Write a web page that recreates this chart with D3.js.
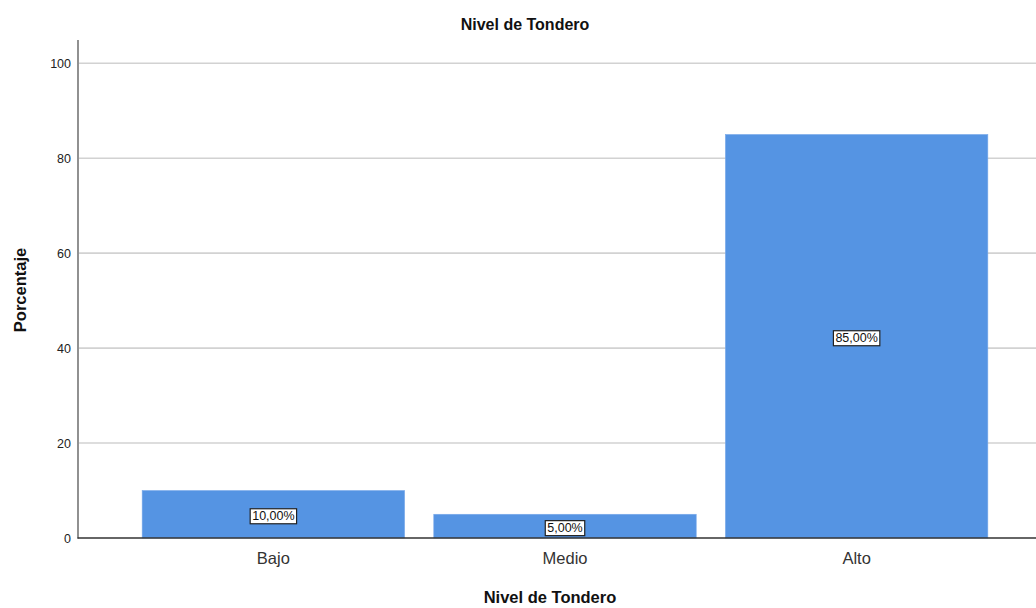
<!DOCTYPE html>
<html>
<head>
<meta charset="utf-8">
<script src="https://cdn.jsdelivr.net/npm/d3@7"></script>
<style>
  body { margin: 0; background: #fff; }
  text { font-family: "Liberation Sans", Arial, sans-serif; }
</style>
</head>
<body>
<div id="chart"></div>
<script>
var categories = ["Bajo", "Medio", "Alto"]
var percentages = [10, 5, 85]
var yTicks = [0, 20, 40, 60, 80, 100]

var width = 1036,
    height = 608

var svg = d3.select("#chart")
    .append("svg")
    .attr("width", width)
    .attr("height", height)

var x = d3.scaleBand()
    .domain(categories)
    .range([78, 1052])
    .paddingInner(0.1)
    .paddingOuter(0.22)

var y = d3.scaleLinear()
    .domain([0, 104.9])
    .range([538, 40])

// gridlines
svg.selectAll("gridLines")
    .data(yTicks.slice(1))
    .enter()
    .append("line")
    .attr("x1", 79)
    .attr("x2", width)
    .attr("y1", d => y(d))
    .attr("y2", d => y(d))
    .attr("stroke", "#d2d2d2")
    .attr("stroke-width", 1.6)

// bars
svg.selectAll("bars")
    .data(percentages)
    .enter()
    .append("rect")
    .attr("x", (d, i) => x(categories[i]))
    .attr("y", d => y(d))
    .attr("width", x.bandwidth())
    .attr("height", d => y(0) - y(d))
    .attr("fill", "#5594e3")
    .attr("stroke", "#7aaaea")
    .attr("stroke-width", 0.6)

// y axis
var yAxis = svg.append("g")
    .attr("transform", "translate(78,0)")
    .call(d3.axisLeft(y).tickValues(yTicks).tickSize(0).tickPadding(7))
yAxis.select(".domain").remove()
yAxis.selectAll("text")
    .attr("font-size", 12.5)
    .attr("fill", "#222")
    .attr("font-family", "Liberation Sans, Arial, sans-serif")

svg.append("line")
    .attr("x1", 78).attr("x2", 78)
    .attr("y1", 40).attr("y2", 538.5)
    .attr("stroke", "#555")
    .attr("stroke-width", 1.3)

// x axis
var xAxis = svg.append("g")
    .attr("transform", "translate(0,538)")
    .call(d3.axisBottom(x).tickSize(0).tickPadding(14))
xAxis.select(".domain").remove()
xAxis.selectAll("text")
    .attr("font-size", 16.5)
    .attr("fill", "#333")
    .attr("font-family", "Liberation Sans, Arial, sans-serif")

svg.append("line")
    .attr("x1", 77.5).attr("x2", width)
    .attr("y1", 538).attr("y2", 538)
    .attr("stroke", "#333")
    .attr("stroke-width", 1.3)

// value labels
var labels = svg.selectAll("valueLabels")
    .data(percentages)
    .enter()
    .append("g")
    .attr("transform", (d, i) => "translate(" + (x(categories[i]) + x.bandwidth() / 2) + "," + ((y(d) + y(0)) / 2 + 1.5) + ")")

labels.append("text")
    .attr("text-anchor", "middle")
    .attr("dy", "0.36em")
    .attr("font-size", 12.5)
    .attr("fill", "#111")
    .text(d => d.toFixed(2).replace(".", ",") + "%")

labels.each(function () {
    var g = d3.select(this)
    var bb = g.select("text").node().getBBox()
    g.insert("rect", "text")
        .attr("x", bb.x - 2)
        .attr("y", bb.y - 0.5)
        .attr("width", bb.width + 4)
        .attr("height", bb.height + 1)
        .attr("fill", "#fff")
        .attr("stroke", "#222")
        .attr("stroke-width", 1.2)
})

// titles
svg.append("text")
    .attr("x", 525)
    .attr("y", 30)
    .attr("text-anchor", "middle")
    .attr("font-size", 16)
    .attr("font-weight", "bold")
    .attr("fill", "#111")
    .text("Nivel de Tondero")

svg.append("text")
    .attr("x", 550)
    .attr("y", 603)
    .attr("text-anchor", "middle")
    .attr("font-size", 16.5)
    .attr("font-weight", "bold")
    .attr("fill", "#111")
    .text("Nivel de Tondero")

svg.append("text")
    .attr("transform", "translate(26,290) rotate(-90)")
    .attr("text-anchor", "middle")
    .attr("font-size", 16.5)
    .attr("font-weight", "bold")
    .attr("fill", "#111")
    .text("Porcentaje")
</script>
</body>
</html>
